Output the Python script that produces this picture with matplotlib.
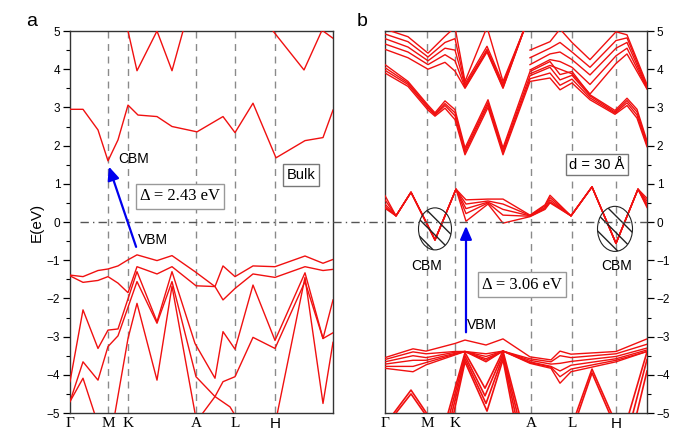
import matplotlib.pyplot as plt
from matplotlib.patches import Ellipse
from matplotlib.lines import Line2D

plt.rcParams['font.family'] = ['Liberation Sans', 'DejaVu Sans']

# k-path (distance along the path, arbitrary units, Gamma = 0)
klabels = ['Γ', 'M', 'K', 'A', 'L', 'H']
kpts_a = [0, 38, 58, 126, 165, 205]
kend_a = 263
kpts_b = [0, 42, 70, 146, 187, 231]
kend_b = 262

# ---- panel a: bulk bands, (k, E) per band ----
bands_a = [
    ([58, 67, 87, 102, 113], [5.0, 3.96, 5.0, 3.96, 5.0]),
    ([203, 234, 252, 263], [5.0, 3.98, 5.02, 4.81]),
    ([0, 13, 28, 38, 48, 58, 68, 87, 102, 127, 153, 165, 183, 206, 235, 253, 263],
     [2.95, 2.95, 2.41, 1.60, 2.15, 3.06, 2.80, 2.76, 2.50, 2.36, 2.76, 2.34, 3.11, 1.68, 2.13, 2.21, 2.93]),
    ([0, 13, 28, 38, 48, 58, 67, 87, 102, 125, 145, 153, 165, 183, 205, 235, 253, 263],
     [-1.39, -1.43, -1.27, -1.23, -1.15, -0.99, -0.86, -1.01, -0.88, -1.30, -1.69, -1.15, -1.43, -1.15, -1.17, -0.89, -1.08, -0.98]),
    ([0, 13, 28, 38, 48, 58, 67, 87, 102, 126, 145, 153, 165, 183, 205, 235, 253, 263],
     [-1.41, -1.58, -1.53, -1.43, -1.60, -1.85, -1.17, -1.36, -1.17, -1.67, -1.69, -2.04, -1.74, -1.36, -1.45, -1.17, -1.27, -1.24]),
    ([0, 13, 28, 38, 48, 67, 87, 102, 125, 145, 153, 165, 183, 205, 235, 253, 263],
     [-4.18, -2.30, -3.31, -2.83, -2.80, -1.30, -2.61, -1.30, -3.18, -4.09, -2.87, -3.33, -1.65, -3.10, -1.33, -3.05, -2.04]),
    ([0, 13, 28, 38, 48, 67, 87, 102, 126, 145, 160, 166],
     [-4.70, -3.66, -4.14, -3.26, -2.98, -1.56, -2.65, -1.56, -4.05, -4.57, -4.84, -5.1]),
    ([130, 145, 153, 165, 183, 205, 235, 253, 263],
     [-5.1, -4.57, -4.18, -4.05, -3.02, -3.31, -1.56, -3.05, -2.90]),
    ([45, 58, 67, 87, 102, 125],
     [-5.0, -3.05, -2.13, -4.14, -1.68, -5.0]),
    ([0, 13, 25], [-4.70, -4.09, -5.05]),
    ([207, 235, 253, 263], [-5.05, -1.45, -4.75, -3.15]),
]

# ---- panel b: 30 A slab, bundles of sub-bands on shared k grids ----
k_cb1 = [0, 11, 26, 50, 71, 81, 103, 118, 145, 160, 165, 186, 207, 231, 253, 262]
cb1_lines = [
    [0.69, 0.16, 0.78, -0.47, 0.86, 0.58, 0.60, 0.60, 0.18, 0.45, 0.70, 0.16, 0.92, -0.56, 0.86, 0.62],
    [0.58, 0.16, 0.78, -0.47, 0.86, 0.47, 0.55, 0.47, 0.17, 0.42, 0.64, 0.16, 0.92, -0.56, 0.86, 0.55],
    [0.47, 0.16, 0.78, -0.47, 0.86, 0.35, 0.52, 0.33, 0.16, 0.38, 0.58, 0.16, 0.92, -0.56, 0.86, 0.48],
    [0.40, 0.16, 0.78, -0.47, 0.86, 0.22, 0.50, 0.18, 0.15, 0.35, 0.53, 0.16, 0.92, -0.56, 0.86, 0.42],
    [0.36, 0.16, 0.78, -0.47, 0.86, 0.02, 0.47, -0.03, 0.14, 0.33, 0.50, 0.16, 0.92, -0.56, 0.86, 0.38],
]

k_cb2 = [0, 23, 43, 50, 60, 70, 80, 103, 118, 145, 165, 175, 187, 205, 230, 242, 252, 262]
cb2_lines = [
    [3.90, 3.55, 2.93, 2.77, 2.98, 2.68, 1.76, 3.00, 1.76, 3.68, 3.77, 3.46, 3.64, 3.20, 2.82, 3.05, 2.72, 1.97],
    [3.97, 3.60, 2.98, 2.80, 3.05, 2.78, 1.82, 3.07, 1.82, 3.75, 3.90, 3.58, 3.74, 3.25, 2.85, 3.12, 2.80, 2.02],
    [4.04, 3.64, 3.02, 2.83, 3.10, 2.86, 1.88, 3.13, 1.88, 3.83, 4.05, 3.72, 3.84, 3.30, 2.88, 3.18, 2.88, 2.07],
    [4.12, 3.68, 3.06, 2.86, 3.17, 2.94, 1.94, 3.20, 1.94, 3.94, 4.20, 3.86, 3.94, 3.33, 2.92, 3.24, 2.95, 2.12],
]

k_cb3l = [0, 23, 43, 60, 70, 80, 102, 118, 140]
cb3l_lines = [
    [5.05, 4.85, 4.42, 4.86, 5.10, 3.68, 5.10, 3.68, 5.10],
    [4.92, 4.72, 4.32, 4.70, 4.80, 3.62, 4.60, 3.62, 5.10],
    [4.80, 4.58, 4.22, 4.55, 4.50, 3.57, 4.52, 3.57, 5.10],
    [4.66, 4.45, 4.12, 4.38, 4.22, 3.52, 4.48, 3.52, 5.10],
    [4.52, 4.30, 4.00, 4.18, 3.95, 3.50, 4.45, 3.50, 5.10],
]

k_cb3r = [145, 165, 175, 187, 205, 231, 242, 262]
cb3r_lines = [
    [4.50, 4.72, 5.05, 4.70, 4.25, 4.98, 4.90, 3.60],
    [4.30, 4.55, 4.70, 4.45, 4.05, 4.75, 4.82, 3.55],
    [4.12, 4.40, 4.45, 4.25, 3.85, 4.55, 4.70, 3.52],
    [3.98, 4.25, 4.20, 4.05, 3.60, 4.35, 4.55, 3.50],
    [3.88, 4.10, 4.00, 3.88, 3.35, 4.15, 4.40, 3.48],
]

k_vb1 = [0, 28, 41, 70, 80, 101, 118, 145, 166, 175, 186, 231, 262]
vb1_lines = [
    [-3.55, -3.32, -3.38, -3.18, -3.09, -3.22, -3.06, -3.53, -3.61, -3.38, -3.46, -3.39, -3.06],
    [-3.60, -3.40, -3.45, -3.39, -3.39, -3.45, -3.38, -3.58, -3.66, -3.50, -3.55, -3.45, -3.20],
    [-3.66, -3.50, -3.55, -3.41, -3.39, -3.52, -3.38, -3.62, -3.72, -3.70, -3.65, -3.52, -3.30],
    [-3.72, -3.62, -3.62, -3.44, -3.39, -3.58, -3.38, -3.66, -3.78, -3.90, -3.75, -3.58, -3.35],
    [-3.78, -3.78, -3.68, -3.46, -3.39, -3.62, -3.38, -3.68, -3.80, -4.05, -3.85, -3.62, -3.39],
    [-3.83, -3.92, -3.74, -3.48, -3.39, -3.66, -3.38, -3.70, -3.83, -4.22, -3.92, -3.66, -3.39],
]

# deeper valence bands of the slab, (k, E) per sub-band
bands_b_low = [
    ([62, 80, 100, 118, 135], [-5.1, -3.42, -4.35, -3.38, -5.1]),
    ([64, 80, 100, 118, 133], [-5.1, -3.50, -4.55, -3.45, -5.1]),
    ([66, 80, 101, 118, 131], [-5.1, -3.58, -4.75, -3.52, -5.1]),
    ([68, 80, 102, 118, 129], [-5.1, -3.66, -4.95, -3.60, -5.1]),
    ([6, 26, 44], [-5.1, -4.40, -5.1]),
    ([8, 26, 42], [-5.1, -4.50, -5.1]),
    ([190, 207, 228], [-5.1, -3.85, -5.1]),
    ([192, 207, 226], [-5.1, -3.95, -5.1]),
    ([243, 262], [-5.1, -3.40]),
    ([247, 262], [-5.1, -3.60]),
    ([251, 262], [-5.1, -3.90]),
]

gap_bulk = '2.43'
gap_slab = '3.06'
slab_d = '30'

RED = '#f01010'


def style_axes(ax, kpts, kend, right):
    ax.set_xlim(0, kend)
    ax.set_ylim(-5, 5)
    for k in kpts[1:]:
        ax.axvline(k, color='#8a8a8a', lw=1.0, ls=(0, (5, 4)), zorder=1)
    ax.set_yticks(range(-5, 6))
    ax.set_yticks([y + 0.5 for y in range(-5, 5)], minor=True)
    ax.set_xticks(kpts)
    ax.set_xticklabels(klabels, family=['Liberation Serif'], fontsize=11)
    for lab in ax.get_xticklabels():
        if lab.get_text() == 'H':
            lab.set_family('Liberation Sans')
    ax.tick_params(axis='x', length=0, pad=3)
    ax.tick_params(axis='y', which='major', length=5, width=0.9, labelsize=8.5,
                   left=not right, right=right, labelleft=not right, labelright=right, pad=2)
    ax.tick_params(axis='y', which='minor', length=3, width=0.8,
                   left=not right, right=right)
    for s in ax.spines.values():
        s.set_color('#333333')
        s.set_linewidth(1.0)


fig = plt.figure(figsize=(6.73, 4.34), dpi=100)
ax_a = fig.add_axes([70 / 673, 21 / 434, 263 / 673, 382 / 434])
ax_b = fig.add_axes([385 / 673, 21 / 434, 262 / 673, 382 / 434])

style_axes(ax_a, kpts_a, kend_a, right=False)
style_axes(ax_b, kpts_b, kend_b, right=True)
ax_a.set_ylabel('E(eV)', fontsize=11, labelpad=2)

for k, e in bands_a:
    ax_a.plot(k, e, color=RED, lw=1.0, zorder=3)

for k, lines in [(k_cb1, cb1_lines), (k_cb2, cb2_lines), (k_cb3l, cb3l_lines),
                 (k_cb3r, cb3r_lines), (k_vb1, vb1_lines)]:
    for e in lines:
        ax_b.plot(k, e, color=RED, lw=1.0, zorder=3)
for k, e in bands_b_low:
    ax_b.plot(k, e, color=RED, lw=1.2, zorder=3)

# Fermi level line running across both panels
fig.add_artist(Line2D([80 / 673, 647 / 673], [(434 - 222) / 434] * 2,
                      color='#555555', lw=1.0, ls=(0, (6, 3, 1, 3)), zorder=5))

# panel a annotations
ax_a.annotate('', xy=(38, 1.52), xytext=(67, -0.72),
              arrowprops=dict(arrowstyle='-|>,head_length=0.8,head_width=0.35',
                              color='#0000ee', lw=1.6))
ax_a.text(48, 1.65, 'CBM', fontsize=10, va='center', ha='left')
ax_a.text(68, -0.47, 'VBM', fontsize=10, va='center', ha='left')
ax_a.text(110, 0.67, 'Δ = ' + gap_bulk + ' eV', family=['Liberation Serif'], fontsize=12,
          ha='center', va='center',
          bbox=dict(boxstyle='square,pad=0.25', fc='white', ec='#999999', lw=1.0))
ax_a.text(231, 1.23, 'Bulk', fontsize=10.5, ha='center', va='center',
          bbox=dict(boxstyle='square,pad=0.25', fc='white', ec='#777777', lw=1.0))

# panel b annotations
for kc, w, h in [(50, 33, 1.10), (230, 35, 1.18)]:
    ax_b.add_patch(Ellipse((kc, -0.18), w, h, fc='none', ec='#222222', lw=0.8,
                           hatch='\\\\', zorder=4))
ax_b.annotate('', xy=(81, -0.03), xytext=(81, -2.96),
              arrowprops=dict(arrowstyle='-|>,head_length=0.8,head_width=0.35',
                              color='#0000ee', lw=1.6))
ax_b.text(82, -2.70, 'VBM', fontsize=10, va='center', ha='left')
ax_b.text(42, -1.16, 'CBM', fontsize=10, va='center', ha='center')
ax_b.text(232, -1.16, 'CBM', fontsize=10, va='center', ha='center')
ax_b.text(137, -1.64, 'Δ = ' + gap_slab + ' eV', family=['Liberation Serif'], fontsize=12,
          ha='center', va='center',
          bbox=dict(boxstyle='square,pad=0.25', fc='white', ec='#999999', lw=1.0))
ax_b.text(212, 1.50, 'd = ' + slab_d + ' Å', fontsize=10.5, ha='center', va='center',
          bbox=dict(boxstyle='square,pad=0.25', fc='white', ec='#777777', lw=1.0))

fig.text(32 / 673, 1 - 22 / 434, 'a', fontsize=14, ha='center', va='center')
fig.text(362 / 673, 1 - 22 / 434, 'b', fontsize=14, ha='center', va='center')

fig.savefig('out.png', dpi=100)
